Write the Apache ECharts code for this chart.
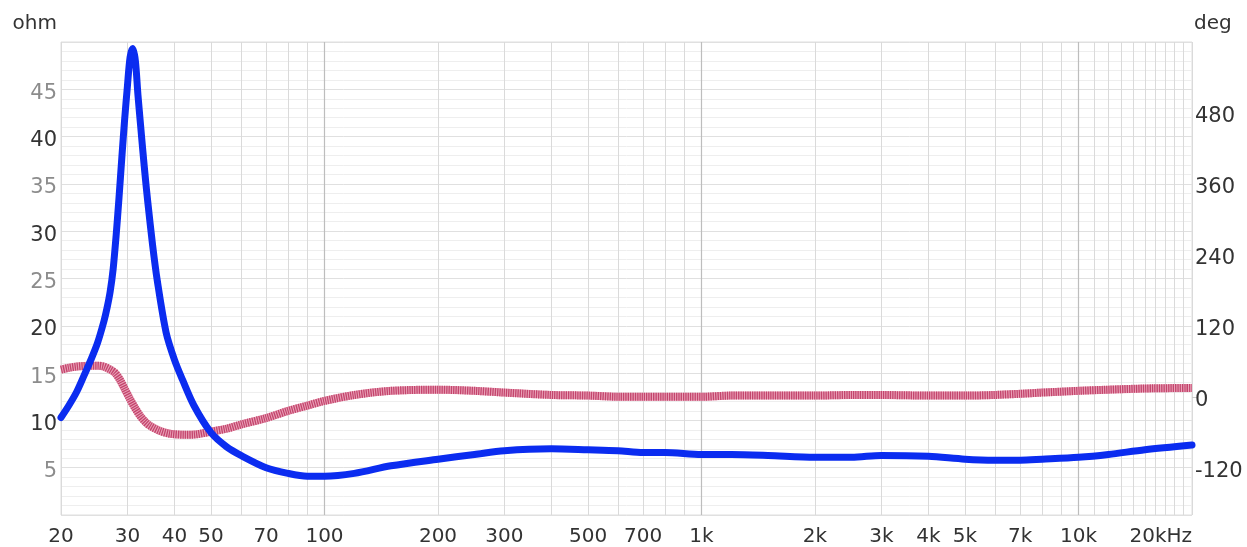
<!DOCTYPE html>
<html>
<head>
<meta charset="utf-8">
<script src="https://cdn.jsdelivr.net/npm/echarts@6/dist/echarts.min.js"></script>
<style>
html,body{margin:0;padding:0;background:#fff;}
#chart{width:1247px;height:547px;}
</style>
</head>
<body>
<div id="chart"></div>
<script>
// Impedance magnitude (ohm) vs frequency (Hz)
const impFreqs = [20,21,22,23,24,25,26,26.5,27,27.5,28,28.5,29,29.5,30,30.5,31,31.5,32,32.5,33,33.5,34,35,36,38,40,42,45,50,55,60,70,80,90,100,120,150,200,250,300,400,500,600,700,800,1000,1200,1500,2000,2500,3000,4000,5000,6000,7000,8000,10000,12000,15000,20000];
const impedance = [10.3,11.6,13.0,14.7,16.4,18.2,20.5,21.9,23.6,26.0,29.5,33.5,37.8,41.8,45.3,48.4,49.3,48.0,44.4,41.3,38.3,35.5,33.0,28.5,24.8,19.3,16.4,14.3,11.6,8.7,7.2,6.3,5.0,4.4,4.1,4.1,4.4,5.2,5.9,6.4,6.8,7.0,6.9,6.8,6.6,6.6,6.4,6.4,6.3,6.1,6.1,6.3,6.2,5.9,5.8,5.8,5.9,6.1,6.4,6.9,7.4];
// Phase (deg) vs frequency (Hz)
const phaseFreqs = [20,21,22,23,24,25,26,27,27.8,28.65,29.5,30.45,31.4,32.4,33.4,34.4,36.5,38.9,42.6,45,50,55,60,70,80,90,100,120,150,200,250,300,400,500,600,700,800,1000,1200,1500,2000,2500,3000,4000,5000,6000,7000,8000,10000,12000,15000,20000];
const phase = [46,49,51,52,52.5,52.5,51,46,40.5,29,13.5,-3.5,-18.5,-32,-42,-49,-57.5,-62.5,-64.3,-64,-59,-54,-47,-36,-24,-15,-7,3,10,12,10,7,3,2,0,0,0,0,2,2,2,3,3,2,2,3,5,7,10,12,14,15];

// Axis tick labels / grid positions
const xLabelValues = [20,30,40,50,70,100,200,300,500,700,1000,2000,3000,4000,5000,7000,10000,20000];
const xMinorGrid = [20,30,40,50,60,70,80,90,200,300,400,500,600,700,800,900,2000,3000,4000,5000,6000,7000,8000,9000,11000,12000,13000,14000,15000,16000,17000,18000,19000,20000];
const xMajorGrid = [100,1000,10000];
const degTicks = [-120,0,120,240,360,480];
const degZeroTick = [0];

const impData = impFreqs.map((f,i)=>[f, impedance[i]]);
const phaseData = phaseFreqs.map((f,i)=>[f, phase[i]]);

const FONT = '"DejaVu Sans", sans-serif';

function fmtFreq(v){
  v = Math.round(v);
  if (v === 20000) return '20kHz';
  if (v >= 1000) return (v/1000) + 'k';
  return String(v);
}

const chart = echarts.init(document.getElementById('chart'), null, {renderer:'canvas'});
chart.setOption({
  animation:false,
  backgroundColor:'#fff',
  grid:{left:61,right:55,top:42,bottom:32,show:true,borderColor:'#dedede',borderWidth:1,backgroundColor:'transparent'},
  xAxis:[{
    type:'log', logBase:10, min:20, max:20000,
    axisLine:{show:false},
    axisTick:{show:false, customValues:xMinorGrid},
    axisLabel:{customValues:xLabelValues, formatter:fmtFreq, color:'#333', fontSize:20, fontFamily:FONT, margin:12, alignMaxLabel:'right'},
    splitLine:{show:true, lineStyle:{color:'#dadada', width:1}}
  },{
    type:'log', logBase:10, min:20, max:20000, position:'bottom',
    axisLine:{show:false},
    axisTick:{show:false, customValues:xMajorGrid},
    axisLabel:{show:false},
    splitLine:{show:true, lineStyle:{color:'#bdbdbd', width:1.2}}
  }],
  yAxis:[{
    type:'value', min:0, max:50, interval:5,
    name:'ohm', nameLocation:'end', nameGap:8,
    nameTextStyle:{color:'#333', fontSize:20, fontFamily:FONT, align:'right', padding:[0,4,0,0]},
    axisLine:{show:false}, axisTick:{show:false},
    axisLabel:{showMinLabel:false, showMaxLabel:false, fontSize:21, fontFamily:FONT, margin:4,
      formatter:function(v){ return '{a|' + v + '}'; },
      rich:{a:{fontSize:21, fontFamily:FONT, padding:[8,0,0,0]}},
      color:function(v){ return (Math.round(v)%10===0) ? '#333' : '#8c8c8c'; }},
    splitLine:{show:true, lineStyle:{color:'#e0e0e0', width:1}},
    minorTick:{show:false, splitNumber:5},
    minorSplitLine:{show:true, lineStyle:{color:'#eeeeee', width:1}}
  },{
    type:'value', min:-200, max:600, position:'right',
    name:'deg', nameLocation:'end', nameGap:8,
    nameTextStyle:{color:'#333', fontSize:20, fontFamily:FONT, align:'left', padding:[0,0,0,2]},
    axisLine:{show:false},
    axisTick:{show:true, customValues:degZeroTick, length:6, lineStyle:{color:'#cccccc'}},
    axisLabel:{customValues:degTicks, color:'#333', fontSize:21, fontFamily:FONT, margin:3,
      formatter:function(v){ return '{a|' + v + '}'; },
      rich:{a:{fontSize:21, fontFamily:FONT, color:'#333', padding:[8,0,0,0]}}},
    splitLine:{show:false}
  }],
  series:[{
    type:'line', xAxisIndex:0, yAxisIndex:1, data:phaseData, smooth:0.3, symbol:'none',
    lineStyle:{color:'#eaa2b8', width:8, cap:'butt'}, z:2
  },{
    type:'line', xAxisIndex:0, yAxisIndex:1, data:phaseData, smooth:0.3, symbol:'none',
    lineStyle:{color:'#c3456d', width:8, type:[1.3,1.0], cap:'butt'}, z:3
  },{
    type:'line', xAxisIndex:0, yAxisIndex:0, data:impData, smooth:0.3, symbol:'none',
    lineStyle:{color:'#0b2cf0', width:7, cap:'round', join:'round'}, z:4
  }]
});
</script>
</body>
</html>
